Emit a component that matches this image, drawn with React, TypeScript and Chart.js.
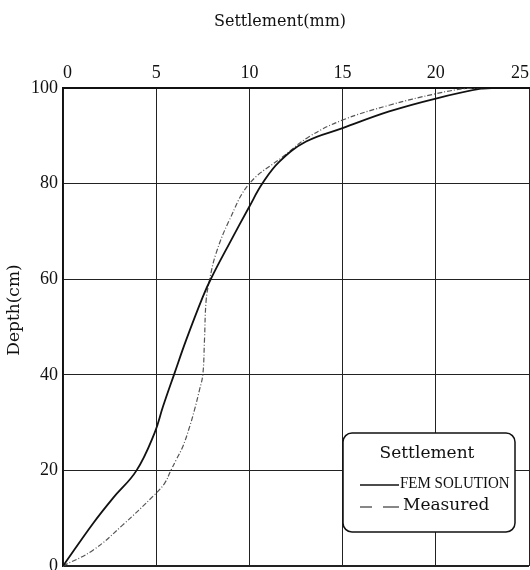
import React, { useEffect, useRef } from "react";
import { Chart, registerables } from "chart.js";

Chart.register(...registerables);

// Settlement (mm) against depth (cm)
const femSettlement = [0, 1.61, 2.68, 3.93, 4.91, 5.36, 5.98, 6.61, 7.5, 7.95, 8.93, 10.0, 10.71, 11.61, 13.04, 15.0, 17.5, 20.0, 22.5, 23.3];
const femDepth = [0, 8.9, 14.2, 19.9, 27.8, 33.3, 40.3, 47.3, 56.3, 60.2, 67.5, 75.2, 80.1, 84.6, 88.8, 91.6, 95.1, 97.8, 99.9, 100];

const measuredSettlement = [0, 1.61, 3.21, 4.91, 5.45, 5.8, 6.07, 6.43, 6.79, 7.05, 7.32, 7.5, 7.59, 7.68, 7.86, 8.21, 8.93, 10.0, 11.79, 13.2, 15.0, 17.5, 20.0, 21.6, 22.5];
const measuredDepth = [0, 3.3, 8.6, 14.9, 17.3, 20.1, 22.2, 25, 29.1, 32.6, 36.8, 40, 47.3, 55.6, 59.8, 65.4, 72.4, 80, 85.6, 89.8, 93.3, 96.4, 98.8, 99.9, 100];

const settlementTicks = [0, 5, 10, 15, 20, 25];
const depthTicks = [0, 20, 40, 60, 80, 100];

const xTitle = "Settlement(mm)";
const yTitle = "Depth(cm)";
const legendTitle = "Settlement";
const femLabel = "FEM SOLUTION";
const measuredLabel = "Measured";

const toPoints = (xs: number[], ys: number[]) => xs.map((x, i) => ({ x, y: ys[i] }));

// Axis titles and the boxed legend inside the plot
const annotations = {
  id: "annotations",
  afterDraw(chart: any) {
    const { ctx, chartArea } = chart;
    ctx.save();
    ctx.fillStyle = "#111";
    ctx.textBaseline = "middle";

    ctx.font = '16px "DejaVu Serif"';
    ctx.textAlign = "center";
    ctx.fillText(xTitle, 280, 22);

    ctx.save();
    ctx.translate(15, 310);
    ctx.rotate(-Math.PI / 2);
    ctx.font = '17px "DejaVu Serif"';
    ctx.fillText(yTitle, 0, 0);
    ctx.restore();

    // legend box
    const bx = chartArea.right - 186;
    const by = chartArea.bottom - 133;
    const bw = 172;
    const bh = 99;
    ctx.beginPath();
    ctx.roundRect(bx, by, bw, bh, 9);
    ctx.fillStyle = "#fff";
    ctx.fill();
    ctx.lineWidth = 1.5;
    ctx.strokeStyle = "#111";
    ctx.stroke();

    ctx.fillStyle = "#111";
    ctx.font = '17px "DejaVu Serif"';
    ctx.textAlign = "center";
    ctx.fillText(legendTitle, bx + 84, by + 21);

    // FEM row
    ctx.beginPath();
    ctx.lineWidth = 1.6;
    ctx.setLineDash([]);
    ctx.moveTo(bx + 17, by + 52);
    ctx.lineTo(bx + 56, by + 52);
    ctx.stroke();
    ctx.textAlign = "left";
    ctx.font = '15px "Liberation Serif"';
    ctx.save();
    ctx.translate(bx + 57, by + 50);
    ctx.scale(1.0, 1.15);
    ctx.fillText(femLabel, 0, 0);
    ctx.restore();

    // Measured row
    ctx.beginPath();
    ctx.lineWidth = 1.2;
    ctx.moveTo(bx + 17, by + 74);
    ctx.lineTo(bx + 29, by + 74);
    ctx.moveTo(bx + 40, by + 74);
    ctx.lineTo(bx + 56, by + 74);
    ctx.stroke();
    ctx.font = '17px "DejaVu Serif"';
    ctx.fillText(measuredLabel, bx + 60, by + 73);

    ctx.restore();
  },
};

export default function App() {
  const canvasRef = useRef<HTMLCanvasElement | null>(null);

  useEffect(() => {
    document.body.style.margin = "0";
    const canvas = canvasRef.current;
    if (!canvas) return;

    const chart = new Chart(canvas, {
      type: "line",
      data: {
        datasets: [
          {
            label: femLabel,
            data: toPoints(femSettlement, femDepth),
            borderColor: "#111",
            borderWidth: 1.8,
            pointRadius: 0,
            tension: 0.4,
            fill: false,
          },
          {
            label: measuredLabel,
            data: toPoints(measuredSettlement, measuredDepth),
            borderColor: "#555",
            borderWidth: 1.2,
            borderDash: [5, 2, 1, 2],
            pointRadius: 0,
            tension: 0.4,
            fill: false,
          },
        ],
      },
      options: {
        responsive: false,
        animation: false,
        layout: { padding: { left: 0, top: 0, right: 1, bottom: 4 } },
        plugins: {
          legend: { display: false },
          tooltip: { enabled: false },
        },
        scales: {
          x: {
            type: "linear",
            position: "top",
            min: 0,
            max: 25,
            afterBuildTicks: (scale: any) => {
              scale.ticks = settlementTicks.map((value) => ({ value }));
            },
            afterFit: (scale: any) => {
              scale.height = 88;
              scale.paddingLeft = 0;
              scale.paddingRight = 0;
            },
            ticks: {
              align: "inner",
              padding: 4,
              color: "#111",
              font: { family: '"Liberation Serif"', size: 18 },
            },
            grid: {
              color: "#222",
              lineWidth: 1,
              drawTicks: false,
            },
            border: { color: "#111", width: 2 },
          },
          y: {
            type: "linear",
            position: "left",
            min: 0,
            max: 100,
            afterBuildTicks: (scale: any) => {
              scale.ticks = depthTicks.map((value) => ({ value }));
            },
            afterFit: (scale: any) => {
              scale.width = 63;
              scale.paddingTop = 0;
              scale.paddingBottom = 0;
            },
            ticks: {
              padding: 5,
              color: "#111",
              font: { family: '"Liberation Serif"', size: 18 },
            },
            grid: {
              color: "#222",
              lineWidth: (c: any) => (c.tick && c.tick.value === 0 ? 2 : 1),
              drawTicks: false,
            },
            border: { color: "#111", width: 1.5 },
          },
        },
      },
      plugins: [annotations],
    });

    return () => chart.destroy();
  }, []);

  return <canvas ref={canvasRef} width={530} height={570} />;
}
